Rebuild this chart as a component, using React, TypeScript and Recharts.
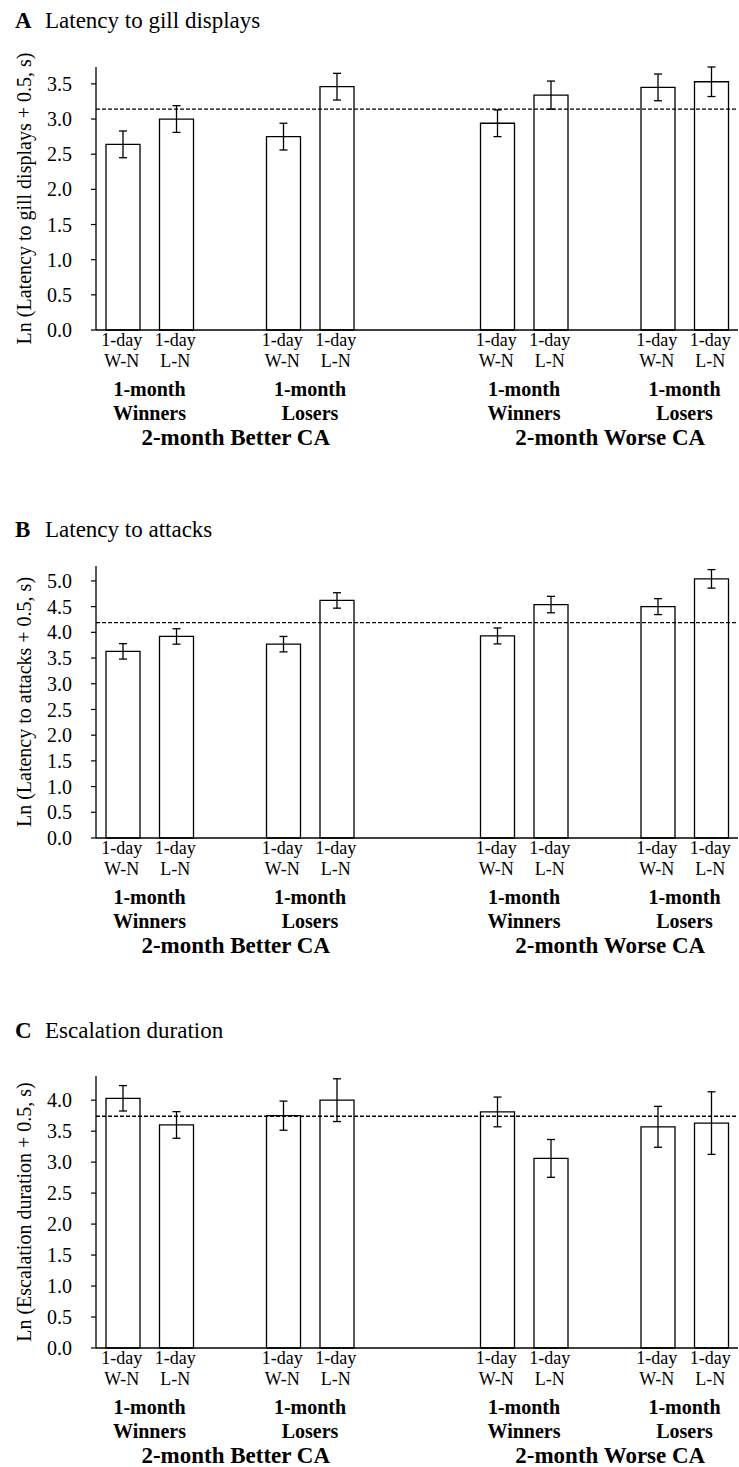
import React from "react";
import {
  ComposedChart,
  Bar,
  XAxis,
  YAxis,
  ErrorBar,
  ReferenceLine,
} from "recharts";

const FONT = '"Liberation Serif", "Times New Roman", serif';

// grouping of the x axis
const caGroups = ["2-month Better CA", "2-month Worse CA"];
const monthGroups = ["Winners", "Losers"];
const pairLabels = ["W-N", "L-N"];
const dayLabel = "1-day";
const monthLabel = "1-month";

// A  Latency to gill displays
const gillMean = [2.64, 3.0, 2.75, 3.46, 2.94, 3.34, 3.45, 3.53];
const gillSE = [0.19, 0.19, 0.19, 0.19, 0.19, 0.2, 0.19, 0.21];
const gillRef = 3.14;
const gillTicks = [0, 0.5, 1.0, 1.5, 2.0, 2.5, 3.0, 3.5];

// B  Latency to attacks
const attackMean = [3.63, 3.92, 3.77, 4.62, 3.93, 4.54, 4.5, 5.04];
const attackSE = [0.15, 0.15, 0.15, 0.15, 0.155, 0.16, 0.155, 0.18];
const attackRef = 4.19;
const attackTicks = [0, 0.5, 1.0, 1.5, 2.0, 2.5, 3.0, 3.5, 4.0, 4.5, 5.0];

// C  Escalation duration
const escMean = [4.03, 3.6, 3.75, 4.0, 3.81, 3.06, 3.57, 3.63];
const escSE = [0.205, 0.215, 0.235, 0.345, 0.24, 0.305, 0.33, 0.505];
const escRef = 3.74;
const escTicks = [0, 0.5, 1.0, 1.5, 2.0, 2.5, 3.0, 3.5, 4.0];

type Row = {
  slot: string;
  cond: string;
  month: string;
  ca: string;
  mean: number | null;
  se: number | null;
};

// one slot per bar, empty slots between the groups
function buildRows(means: number[], ses: number[]): Row[] {
  const rows: Row[] = [];
  const blank = () =>
    rows.push({ slot: `gap-${rows.length}`, cond: "", month: "", ca: "", mean: null, se: null });
  let k = 0;
  caGroups.forEach((ca, gi) => {
    if (gi > 0) {
      blank();
      blank();
    }
    monthGroups.forEach((m, mi) => {
      if (mi > 0) blank();
      pairLabels.forEach((c, ci) => {
        rows.push({
          slot: `${gi}-${mi}-${ci}`,
          cond: c,
          month: ci === 0 ? m : "",
          ca: mi === 0 && ci === 0 ? ca : "",
          mean: means[k],
          se: ses[k],
        });
        k++;
      });
    });
  });
  return rows;
}

const CHART_W = 739;
const Y_W = 96;
const RIGHT = 1;
const X_H = 119;

const SlotTick = (props: any) => {
  const { x, y, payload, rows, band } = props;
  const row: Row | undefined = rows.find((r: Row) => r.slot === payload.value);
  if (!row || row.mean == null) return null;
  const txt = { fill: "#000", fontFamily: FONT, textAnchor: "middle" as const };
  return (
    <g>
      <text x={x - 1} y={y + 16} fontSize={18} {...txt}>
        {dayLabel}
      </text>
      <text x={x - 1} y={y + 37} fontSize={18} {...txt}>
        {row.cond}
      </text>
      {row.month && (
        <>
          <text x={x + band / 2} y={y + 66} fontSize={20} fontWeight="bold" {...txt}>
            {monthLabel}
          </text>
          <text x={x + band / 2} y={y + 90} fontSize={20} fontWeight="bold" {...txt}>
            {row.month}
          </text>
        </>
      )}
      {row.ca && (
        <text x={x + band * 2 + 6} y={y + 115} fontSize={23} fontWeight="bold" {...txt}>
          {row.ca}
        </text>
      )}
    </g>
  );
};

const YTitle = (props: any) => {
  const vb = props.viewBox || { x: 0, y: 0, width: Y_W, height: 0 };
  const cx = vb.x + 24;
  const cy = vb.y + vb.height / 2;
  return (
    <text
      x={cx}
      y={cy}
      transform={`rotate(-90 ${cx} ${cy})`}
      textAnchor="middle"
      dominantBaseline="central"
      fontSize={20}
      fontFamily={FONT}
      fill="#000"
    >
      {props.text}
    </text>
  );
};

type PanelProps = {
  top: number;
  plotTop: number;
  plotBottom: number;
  yLabel: string;
  means: number[];
  ses: number[];
  refValue: number;
  yMax: number;
  ticks: number[];
};

const Panel = ({ top, plotTop, plotBottom, yLabel, means, ses, refValue, yMax, ticks }: PanelProps) => {
  const rows = buildRows(means, ses);
  const band = (CHART_W - Y_W - RIGHT) / rows.length;
  return (
    <div style={{ position: "absolute", left: 0, top }}>
      <ComposedChart
        width={CHART_W}
        height={plotBottom - top + X_H}
        data={rows}
        margin={{ top: plotTop - top, right: RIGHT, left: 0, bottom: 0 }}
      >
        <XAxis
          dataKey="slot"
          interval={0}
          height={X_H}
          tickSize={0}
          tickMargin={0}
          tickLine={false}
          axisLine={{ stroke: "#000", strokeWidth: 1.3 }}
          tick={<SlotTick rows={rows} band={band} />}
        />
        <YAxis
          width={Y_W}
          domain={[0, yMax]}
          ticks={ticks}
          interval={0}
          tickSize={5}
          tickMargin={19}
          tickFormatter={(v: number) => v.toFixed(1)}
          axisLine={{ stroke: "#000", strokeWidth: 1.3 }}
          tickLine={{ stroke: "#000", strokeWidth: 1.2 }}
          tick={{ fill: "#000", fontSize: 20, fontFamily: FONT }}
          label={<YTitle text={yLabel} />}
        />
        <Bar
          dataKey="mean"
          barSize={34}
          fill="#fff"
          stroke="#000"
          strokeWidth={1.3}
          isAnimationActive={false}
        >
          <ErrorBar dataKey="se" width={4} stroke="#000" strokeWidth={1.3} />
        </Bar>
        <ReferenceLine y={refValue} stroke="#000" strokeWidth={1.3} strokeDasharray="4 2" />
      </ComposedChart>
    </div>
  );
};

const titles = [
  { letter: "A", text: "Latency to gill displays", baseline: 28 },
  { letter: "B", text: "Latency to attacks", baseline: 537 },
  { letter: "C", text: "Escalation duration", baseline: 1038 },
];

export default function App() {
  return (
    <div
      style={{
        position: "absolute",
        left: 0,
        top: 0,
        width: 739,
        height: 1467,
        background: "#fff",
        overflow: "hidden",
      }}
    >
      <Panel
        top={0}
        plotTop={67}
        plotBottom={330}
        yLabel="Ln (Latency to gill displays + 0.5, s)"
        means={gillMean}
        ses={gillSE}
        refValue={gillRef}
        yMax={3.67}
        ticks={gillTicks}
      />
      <Panel
        top={480}
        plotTop={566}
        plotBottom={838}
        yLabel="Ln (Latency to attacks + 0.5, s)"
        means={attackMean}
        ses={attackSE}
        refValue={attackRef}
        yMax={5.29}
        ticks={attackTicks}
      />
      <Panel
        top={980}
        plotTop={1076}
        plotBottom={1348}
        yLabel="Ln (Escalation duration + 0.5, s)"
        means={escMean}
        ses={escSE}
        refValue={escRef}
        yMax={4.39}
        ticks={escTicks}
      />
      <svg
        width={739}
        height={1467}
        style={{ position: "absolute", left: 0, top: 0, pointerEvents: "none" }}
      >
        {titles.map((t) => (
          <text key={t.letter} y={t.baseline} fontSize={23} fontFamily={FONT} fill="#000">
            <tspan x={15} fontWeight="bold">
              {t.letter}
            </tspan>
            <tspan x={45}>{t.text}</tspan>
          </text>
        ))}
      </svg>
    </div>
  );
}
